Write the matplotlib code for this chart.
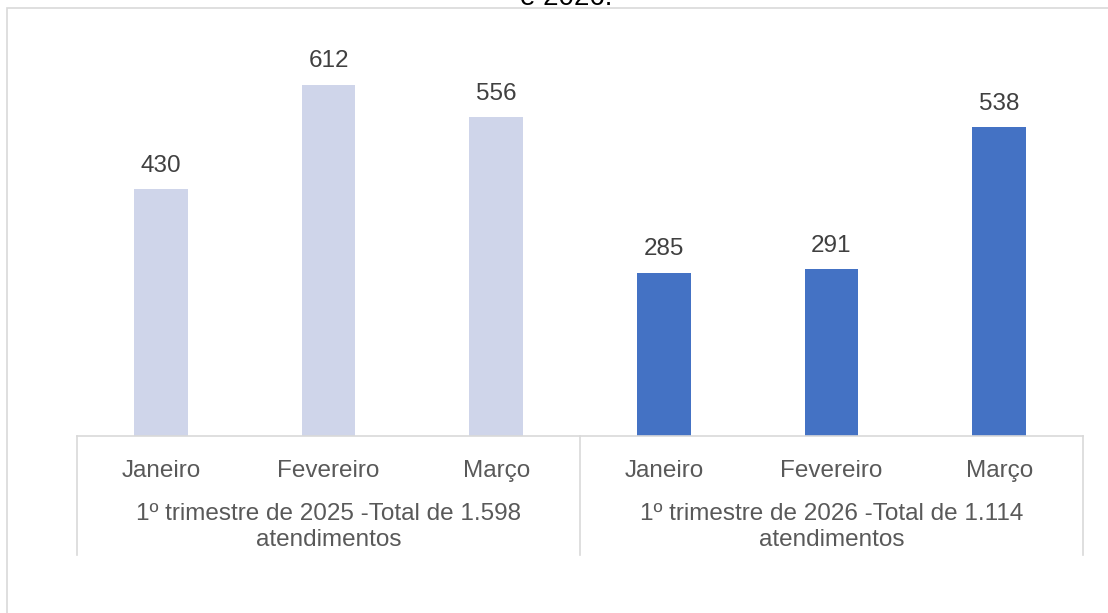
import matplotlib
matplotlib.use("Agg")
import matplotlib.pyplot as plt
from matplotlib.lines import Line2D
from matplotlib.patches import Rectangle

months = ["Janeiro", "Fevereiro", "Março", "Janeiro", "Fevereiro", "Março"]
values = [430, 612, 556, 285, 291, 538]
groups = ["1º trimestre de 2025 -Total de 1.598\natendimentos",
          "1º trimestre de 2026 -Total de 1.114\natendimentos"]
bar_colors = ["#CFD5EA"] * 3 + ["#4472C4"] * 3
title_tail = "e 2026."

plt.rcParams['font.family'] = ['Liberation Sans', 'DejaVu Sans']

W, H = 1108, 613
fig = plt.figure(figsize=(W / 100, H / 100), dpi=100)

# outer chart border
fig.patches.append(Rectangle((7 / W, -0.1), 1.2, (H - 8) / H + 0.1, transform=fig.transFigure,
                             fill=False, edgecolor="#d9d9d9", linewidth=1.2, figure=fig))

ax_l, ax_r, ax_b, ax_t = 77, 1083, 436, 35
ax = fig.add_axes([ax_l / W, (H - ax_b) / H, (ax_r - ax_l) / W, (ax_b - ax_t) / H])

x = list(range(len(values)))
bars = ax.bar(x, values, width=0.32, color=bar_colors)
ax.set_xlim(-0.5, len(values) - 0.5)
ax.set_ylim(0, 699)

for xi, v in zip(x, values):
    ax.annotate(str(v), (xi, v), xytext=(0, 9), textcoords="offset points",
                ha="center", va="bottom", fontsize=17.5, color="#404040")

for s in ["top", "right", "left"]:
    ax.spines[s].set_visible(False)
ax.spines["bottom"].set_color("#d9d9d9")
ax.spines["bottom"].set_linewidth(1.2)
ax.set_yticks([])
ax.set_xticks(x)
ax.set_xticklabels(months, fontsize=17.5, color="#595959")
ax.tick_params(axis="x", length=0, pad=17)

# group labels
trans = ax.get_xaxis_transform()
for gi, g in enumerate(groups):
    cx = gi * 3 + 1
    ax.text(cx, -(527 - ax_b) / (ax_b - ax_t), g, transform=trans, ha="center", va="center",
            fontsize=17.5, color="#595959", linespacing=1.25)

# separators of the multi-level axis
for xs in [-0.5, 2.5, 5.5]:
    ax.add_line(Line2D([xs, xs], [0, -(555 - ax_b) / (ax_b - ax_t)], transform=trans,
                       color="#d9d9d9", linewidth=1.2, clip_on=False))

# clipped title remnant
fig.text(566 / W, (H - 5) / H, title_tail, ha="center", va="baseline",
         fontsize=20, color="#000000")

fig.savefig("out.png", dpi=100, facecolor="white")
